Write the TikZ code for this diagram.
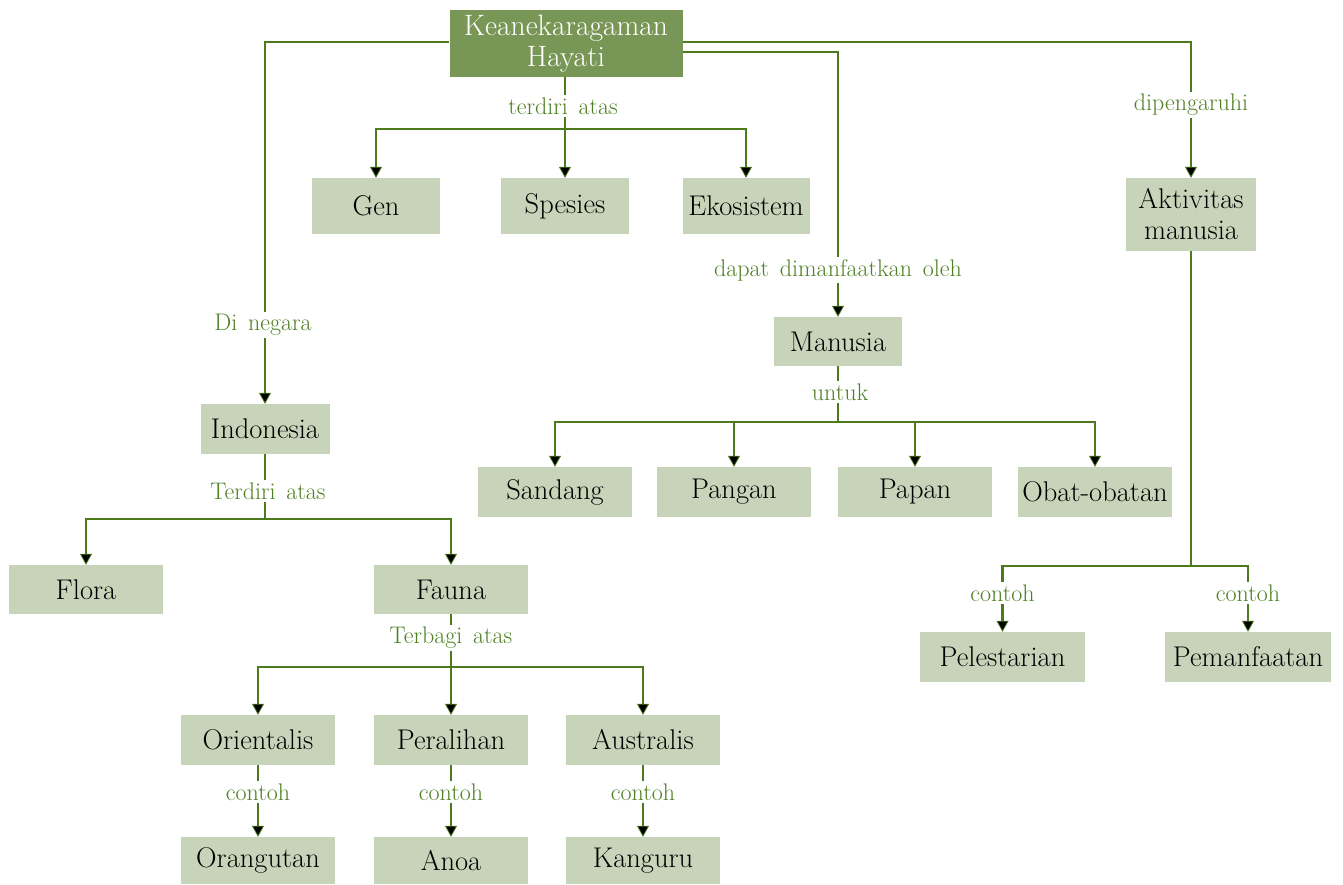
\documentclass[tikz,border=0pt]{standalone}
\usepackage{fontspec}
\usetikzlibrary{arrows.meta}
\definecolor{boxfill}{HTML}{C8D4BA}
\definecolor{topfill}{HTML}{789655}
\definecolor{linegreen}{HTML}{4C7A1C}
\definecolor{labelgreen}{HTML}{4F8024}
\newcommand{\boxfont}{\fontsize{28.5}{31}\selectfont}
\newcommand{\topfont}{\fontsize{29.5}{31}\selectfont}
\newcommand{\lblfont}{\fontsize{24}{27}\selectfont\spaceskip=0.45em}
\tikzset{
  box/.style={fill=boxfill, inner sep=0pt, minimum width=154pt, minimum height=50pt,
    font=\boxfont, text=black},
  topbox/.style={fill=topfill, inner sep=0pt, minimum width=233pt, minimum height=67pt,
    font=\topfont, text=white, align=center},
  lbl/.style={fill=white, inner sep=2.5pt, text=labelgreen, font=\lblfont},
  conn/.style={draw=linegreen, line width=2.6pt},
  arr/.style={conn, -{Triangle[length=11pt,width=12pt,fill=black,line width=0.8pt]}},
}
\begin{document}
\begin{tikzpicture}[x=1pt,y=-1pt]
\useasboundingbox (0,0) rectangle (1343,884);

% nodes
\node[topbox] (kh) at (566,43.5) {Keanekaragaman\\Hayati};
\node[box, minimum width=128pt, minimum height=56pt] (gen) at (376,206) {Gen};
\node[box, minimum width=128pt, minimum height=56pt] (spesies) at (565,206) {Spesies};
\node[box, minimum width=127pt, minimum height=56pt] (eko) at (746,206) {Ekosistem};
\node[box, minimum width=130pt, minimum height=73pt, align=center] (akt) at (1191,214.5) {Aktivitas\\manusia};
\node[box, minimum width=128pt, minimum height=49pt] (man) at (838,341.5) {Manusia};
\node[box, minimum width=129pt, minimum height=50pt] (indo) at (265,429) {Indonesia};
\node[box] (sandang) at (555,492) {Sandang};
\node[box] (pangan) at (734,492) {Pangan};
\node[box] (papan) at (915,492) {Papan};
\node[box] (obat) at (1095,492) {Obat-obatan};
\node[box, minimum height=49pt] (flora) at (86,589.5) {Flora};
\node[box, minimum height=49pt] (fauna) at (451,589.5) {Fauna};
\node[box, minimum width=165pt] (pel) at (1002.5,657) {Pelestarian};
\node[box, minimum width=166pt] (pem) at (1248,657) {Pemanfaatan};
\node[box] (ori) at (258,740) {Orientalis};
\node[box] (per) at (451,740) {Peralihan};
\node[box] (aus) at (643,740) {Australis};
\node[box, minimum height=47pt] (oru) at (258,860.5) {Orangutan};
\node[box, minimum height=47pt] (anoa) at (451,860.5) {Anoa};
\node[box, minimum height=47pt] (kang) at (643,860.5) {Kanguru};

% junction points
\coordinate (j1) at (565,129);
\coordinate (j2) at (838,422);
\coordinate (j3) at (265,519);
\coordinate (j4) at (451,667);
\coordinate (j5) at (1191,566);

% connectors
\draw[conn] (j1 |- kh.south) -- (j1);
\draw[arr] (j1) -| (gen.north);
\draw[arr] (j1) -- (spesies.north);
\draw[arr] (j1) -| (eko.north);

\draw[arr] ([yshift=1.5pt]kh.west) -| (indo.north);
\draw[arr] ([yshift=1.5pt]kh.east) -| (akt.north);
\draw[arr] ([yshift=-8.5pt]kh.east) -| (man.north);

\draw[conn] (man.south) -- (j2);
\draw[arr] (j2) -| (sandang.north);
\draw[arr] (j2) -| (pangan.north);
\draw[arr] (j2) -| (papan.north);
\draw[arr] (j2) -| (obat.north);

\draw[conn] (indo.south) -- (j3);
\draw[arr] (j3) -| (flora.north);
\draw[arr] (j3) -| (fauna.north);

\draw[conn] (fauna.south) -- (j4);
\draw[arr] (j4) -| (ori.north);
\draw[arr] (j4) -- (per.north);
\draw[arr] (j4) -| (aus.north);

\draw[arr] (ori.south) -- (oru.north);
\draw[arr] (per.south) -- (anoa.north);
\draw[arr] (aus.south) -- (kang.north);

\draw[conn] (akt.south) -- (j5);
\draw[arr] (j5) -| (pel.north);
\draw[arr] (j5) -| (pem.north);

% connector labels
\node[lbl] (l1) at (563,106) {terdiri atas};
\node[lbl] (l2) at (263,325) {Di negara};
\node[lbl] (l3) at (1191,105) {dipengaruhi};
\node[lbl] (l4) at (838,270) {dapat dimanfaatkan oleh};
\node[lbl] (l5) at (840,392) {untuk};
\node[lbl] (l6) at (268,491) {Terdiri atas};
\node[lbl] (l7) at (451,638) {Terbagi atas};
\node[lbl] (l8) at (258,792) {contoh};
\node[lbl] (l9) at (451,792) {contoh};
\node[lbl] (l10) at (643,792) {contoh};
\node[lbl] (l11) at (1002.5,593) {contoh};
\node[lbl] (l12) at (1248,593) {contoh};
\end{tikzpicture}
\end{document}
